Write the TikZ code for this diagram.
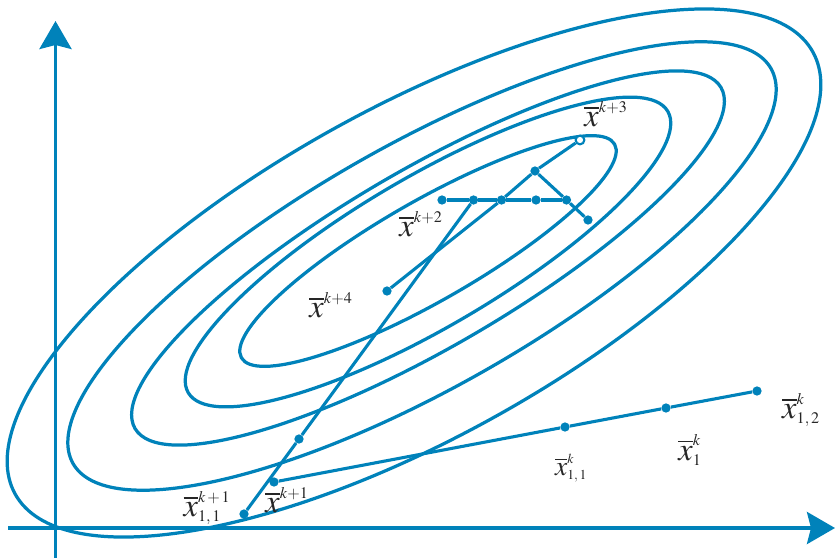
\documentclass[tikz,border=0pt]{standalone}
\usepackage{mathptmx}
\usetikzlibrary{arrows.meta}

\definecolor{lineblue}{RGB}{0,130,186}
\tikzset{
  dot/.style={circle, fill=lineblue, inner sep=0pt, minimum size=6.6pt},
  odot/.style={circle, draw=lineblue, fill=white, line width=1.5pt, inner sep=0pt, minimum size=6.2pt},
  seg/.style={lineblue, line width=2.2pt},
  lbl/.style={text=black!85, inner sep=0pt, font=\fontsize{15.5}{18}\selectfont},
}
\newcommand{\xb}{\mbox{\fontsize{23}{23}\selectfont$\overline{x}$}}

\begin{document}
\begin{tikzpicture}[x=0.025cm, y=-0.025cm, >={Stealth[length=7mm, width=8mm, inset=1mm]}, line join=round]
  \useasboundingbox (0,0) rectangle (836,558);
  % axes
  \draw[->, lineblue, line width=2.6pt] (55.5,558) -- (55.5,21);
  \draw[->, lineblue, line width=2.6pt] (8,528) -- (835,528);
  % level sets
  \foreach \cx/\cy/\ra/\rb/\ang in {428/251/215/50/29.8, 428/252/278/75/30.4, 428/258/339/89/30.2, 422/266/401/122/29.5, 414/273/456/165/29}
    \draw[lineblue, line width=2.3pt, rotate around={\ang:(\cx,\cy)}] (\cx,\cy) ellipse [x radius=\ra, y radius=\rb];
  % iterates
  \node[dot] (xkp111) at (244,514) {};
  \node[dot] (q1) at (299,439) {};
  \node[dot] (xkp1) at (274,482) {};
  \node[dot] (xk11) at (565,427) {};
  \node[dot] (xk1) at (666,408) {};
  \node[dot] (xk12) at (757,391) {};
  \node[dot] (r1) at (442,200) {};
  \node[dot] (r2) at (473.5,200) {};
  \node[dot] (r3) at (501.5,200) {};
  \node[dot] (r4) at (536,200) {};
  \node[dot] (r5) at (566.5,200) {};
  \node[odot] (xkp3) at (580,140) {};
  \node[dot] (m) at (535,171) {};
  \node[dot] (e) at (588,220) {};
  \node[dot] (xkp4) at (387,291) {};
  \draw[seg] (xkp1) -- (xk11) -- (xk1) -- (xk12);
  \draw[seg] (xkp111) -- (q1) -- (r2);
  \draw[seg] (r1) -- (r2) -- (r3) -- (r4) -- (r5);
  \draw[seg] (xkp3) -- (m) -- (r3) -- (xkp4);
  \draw[seg] (m) -- (r5) -- (e);
  % labels
  \node[lbl] (lkp3) at (606,114) {$\xb^{k+3}$};
  \node[lbl] (lkp2) at (421,224) {$\xb^{k+2}$};
  \node[lbl] (lkp4) at (331,305) {$\xb^{k+4}$};
  \node[lbl] (lkp111) at (207,508) {$\xb^{k\,+\,1}_{1,\,1}$};
  \node[lbl] (lkp1) at (287,500) {$\xb^{k+1}$};
  \node[lbl, scale=0.85] (lk11) at (571,468) {$\xb^{k}_{1,\,1}$};
  \node[lbl] (lk1) at (690,450) {$\xb^{k}_{1}$};
  \node[lbl] (lk12) at (801,410) {$\xb^{k}_{1,\,2}$};
\end{tikzpicture}
\end{document}
